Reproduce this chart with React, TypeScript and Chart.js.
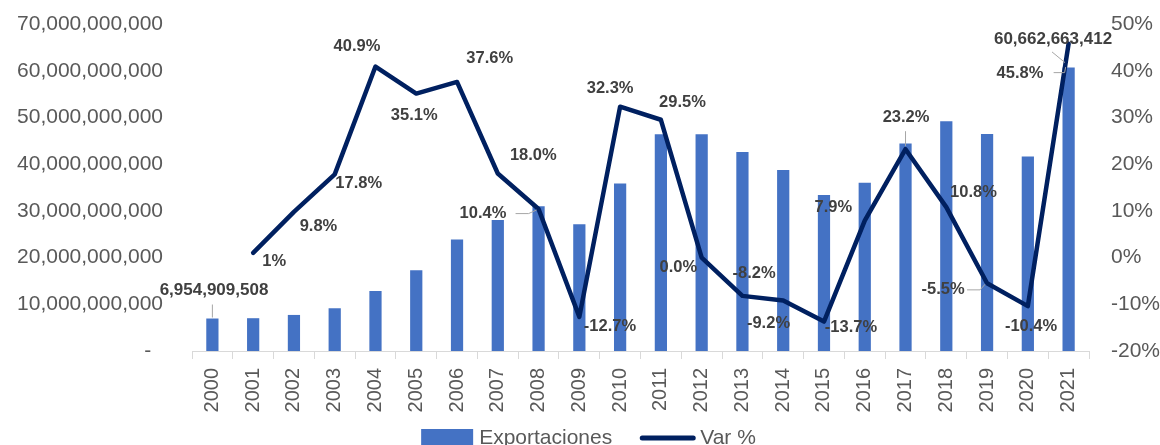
import React, { useEffect, useRef } from "react";
import { Chart, registerables } from "chart.js";

Chart.register(...registerables);

// ---------- data ----------
const YEARS = [
  "2000", "2001", "2002", "2003", "2004", "2005", "2006", "2007", "2008", "2009", "2010",
  "2011", "2012", "2013", "2014", "2015", "2016", "2017", "2018", "2019", "2020", "2021",
];

const EXPORTACIONES = [
  6954909508, 7020000000, 7720000000, 9150000000, 12850000000, 17300000000, 23850000000,
  28050000000, 31000000000, 27150000000, 35850000000, 46400000000, 46400000000, 42600000000,
  38750000000, 33400000000, 36000000000, 44400000000, 49200000000, 46450000000, 41650000000,
  60662663412,
];

const VAR_PCT: (number | null)[] = [
  null, 1, 9.8, 17.8, 40.9, 35.1, 37.6, 18.0, 10.4, -12.7, 32.3,
  29.5, 0.0, -8.2, -9.2, -13.7, 7.9, 23.2, 10.8, -5.5, -10.4, 45.8,
];

const VAR_LABELS: (string | null)[] = [
  null, "1%", "9.8%", "17.8%", "40.9%", "35.1%", "37.6%", "18.0%", "10.4%", "-12.7%", "32.3%",
  "29.5%", "0.0%", "-8.2%", "-9.2%", "-13.7%", "7.9%", "23.2%", "10.8%", "-5.5%", "-10.4%", "45.8%",
];

const BAR_LABELS: Record<number, string> = {
  0: "6,954,909,508",
  21: "60,662,663,412",
};

const LEFT_MIN = 0;
const LEFT_MAX = 70000000000;
const LEFT_STEP = 10000000000;
const RIGHT_MIN = -20;
const RIGHT_MAX = 50;
const RIGHT_STEP = 10;

const SERIES_NAMES = ["Exportaciones", "Var %"];

// ---------- label placement (style, relative to the mark) ----------
const LINE_LABEL_OFFSETS: ([number, number] | null)[] = [
  null, [21, 9], [24.5, 15], [24, 9], [-18.5, -20.5], [-2, 22], [32.7, -23], [35.5, -18],
  [-55.6, 4.3], [30.6, 9.7], [-10, -18], [21.6, -17.5], [-23.4, 9.7], [11.6, -22.6],
  [-14.7, 23], [27, 6.3], [-31.4, -12.8], [0.5, -32], [27.2, -15], [-44, 6.6], [3.2, 20],
  [-48.6, 30.2],
];

const LINE_LEADERS: Record<number, [number, number][]> = {
  8: [[-23, 4.6], [-10, 4.6], [-2, 1]],
  17: [[0, -18], [0, -3]],
  19: [[-20, 6.6], [-7, 6.6], [-2, 1]],
  21: [[-15, 29], [-4, 29], [-3, 23.5]],
};

const BAR_LABEL_OFFSETS: Record<number, [number, number]> = {
  0: [1.6, -27.8],
  21: [-15.6, -28.7],
};

const BAR_LEADERS: Record<number, [number, number][]> = {
  0: [[0, -14], [0, -1]],
  21: [[-16.6, -15.7], [-3.6, -5]],
};

const FONT = "'Liberation Sans', Arial, sans-serif";
const AXIS_COLOR = "#595959";
const LABEL_COLOR = "#404040";
const LEADER_COLOR = "#a6a6a6";
const BAR_COLOR = "#4472C4";
const LINE_COLOR = "#002060";

const labelPlugin = {
  id: "customLabels",
  afterDatasetsDraw(chart: any) {
    const ctx = chart.ctx as CanvasRenderingContext2D;
    const barMeta = chart.getDatasetMeta(0);
    const lineMeta = chart.getDatasetMeta(1);
    ctx.save();

    const drawLeader = (ox: number, oy: number, pts: [number, number][]) => {
      ctx.beginPath();
      ctx.strokeStyle = LEADER_COLOR;
      ctx.lineWidth = 1;
      pts.forEach(([dx, dy], k) => {
        if (k === 0) ctx.moveTo(ox + dx, oy + dy);
        else ctx.lineTo(ox + dx, oy + dy);
      });
      ctx.stroke();
    };

    Object.keys(BAR_LEADERS).forEach((k) => {
      const i = Number(k);
      const el = barMeta.data[i];
      if (el) drawLeader(el.x, el.y, BAR_LEADERS[i]);
    });
    Object.keys(LINE_LEADERS).forEach((k) => {
      const i = Number(k);
      const el = lineMeta.data[i];
      if (el) drawLeader(el.x, el.y, LINE_LEADERS[i]);
    });

    ctx.fillStyle = LABEL_COLOR;
    ctx.textAlign = "center";
    ctx.textBaseline = "middle";

    ctx.font = `bold 17px ${FONT}`;
    Object.keys(BAR_LABELS).forEach((k) => {
      const i = Number(k);
      const el = barMeta.data[i];
      const off = BAR_LABEL_OFFSETS[i];
      if (el && off) ctx.fillText(BAR_LABELS[i], el.x + off[0], el.y + off[1]);
    });

    ctx.font = `bold 16.5px ${FONT}`;
    VAR_LABELS.forEach((txt, i) => {
      const el = lineMeta.data[i];
      const off = LINE_LABEL_OFFSETS[i];
      if (!txt || !el || !off || VAR_PCT[i] === null) return;
      ctx.fillText(txt, el.x + off[0], el.y + off[1]);
    });
    ctx.restore();
  },
};

const legendPlugin = {
  id: "customLegend",
  afterDraw(chart: any) {
    const ctx = chart.ctx as CanvasRenderingContext2D;
    ctx.save();
    ctx.font = `21px ${FONT}`;
    const w1 = ctx.measureText(SERIES_NAMES[0]).width;
    const w2 = ctx.measureText(SERIES_NAMES[1]).width;
    const boxW = 52;
    const lineW = 55;
    const total = boxW + 6 + w1 + 28 + lineW + 5 + w2;
    const cx = chart.width / 2 + 8.5;
    const cy = chart.chartArea.bottom + 87;
    let x = cx - total / 2;

    ctx.fillStyle = BAR_COLOR;
    ctx.fillRect(x, cy - 9, boxW, 18);
    ctx.fillStyle = AXIS_COLOR;
    ctx.textAlign = "left";
    ctx.textBaseline = "middle";
    ctx.fillText(SERIES_NAMES[0], x + boxW + 6, cy);

    x = x + boxW + 6 + w1 + 28;
    ctx.beginPath();
    ctx.strokeStyle = LINE_COLOR;
    ctx.lineWidth = 5;
    ctx.lineCap = "round";
    ctx.moveTo(x + 2, cy);
    ctx.lineTo(x + lineW - 2, cy);
    ctx.stroke();
    ctx.fillText(SERIES_NAMES[1], x + lineW + 5, cy);
    ctx.restore();
  },
};

const noVerticalPadding = (s: any) => {
  s.paddingTop = 0;
  s.paddingBottom = 0;
};

export default function App() {
  const ref = useRef<HTMLCanvasElement | null>(null);

  useEffect(() => {
    document.body.style.margin = "0";
    document.documentElement.style.overflow = "hidden";
    document.body.style.overflow = "hidden";
    if (!ref.current) return;

    const chart = new Chart(ref.current, {
      type: "bar",
      data: {
        labels: YEARS,
        datasets: [
          {
            type: "bar",
            label: SERIES_NAMES[0],
            data: EXPORTACIONES,
            backgroundColor: BAR_COLOR,
            borderColor: BAR_COLOR,
            borderWidth: 0,
            yAxisID: "y",
            barPercentage: 0.3,
            categoryPercentage: 1,
            order: 2,
          } as any,
          {
            type: "line",
            label: SERIES_NAMES[1],
            data: VAR_PCT,
            borderColor: LINE_COLOR,
            backgroundColor: LINE_COLOR,
            borderWidth: 4.5,
            borderJoinStyle: "round",
            borderCapStyle: "round",
            tension: 0,
            pointRadius: 0,
            pointHoverRadius: 0,
            yAxisID: "y1",
            order: 1,
            spanGaps: false,
          } as any,
        ],
      },
      options: {
        responsive: false,
        animation: false,
        devicePixelRatio: 1,
        layout: { padding: { top: 24, left: 0, right: 0, bottom: 0 } },
        plugins: {
          tooltip: { enabled: false },
          legend: { display: false },
        },
        scales: {
          x: {
            offset: true,
            grid: {
              display: true,
              offset: true,
              drawOnChartArea: false,
              drawTicks: true,
              tickLength: 8,
              color: "#d9d9d9",
            },
            border: { display: true, color: "#d9d9d9", width: 1 },
            ticks: {
              autoSkip: false,
              minRotation: 90,
              maxRotation: 90,
              padding: 9,
              color: AXIS_COLOR,
              font: { family: FONT, size: 20 },
            },
            afterFit: (s: any) => {
              s.height = 94;
            },
          },
          y: {
            position: "left",
            min: LEFT_MIN,
            max: LEFT_MAX,
            grid: { display: false, drawTicks: false },
            border: { display: false },
            ticks: {
              stepSize: LEFT_STEP,
              padding: 29,
              color: AXIS_COLOR,
              font: { family: FONT, size: 21 },
              callback: (v: any) => (Number(v) === 0 ? "-  " : Number(v).toLocaleString("en-US")),
            },
            afterFit: (s: any) => {
              s.width = 192;
              noVerticalPadding(s);
            },
          },
          y1: {
            position: "right",
            min: RIGHT_MIN,
            max: RIGHT_MAX,
            grid: { display: false, drawTicks: false },
            border: { display: false },
            ticks: {
              stepSize: RIGHT_STEP,
              padding: 22,
              color: AXIS_COLOR,
              font: { family: FONT, size: 21 },
              callback: (v: any) => `${v}%`,
            },
            afterFit: (s: any) => {
              s.width = 71;
              noVerticalPadding(s);
            },
          },
        },
      },
      plugins: [labelPlugin, legendPlugin],
    });

    return () => chart.destroy();
  }, []);

  return (
    <div style={{ width: 1160, height: 445, overflow: "hidden", position: "relative" }}>
      <canvas ref={ref} width={1160} height={445} style={{ display: "block" }} />
    </div>
  );
}
